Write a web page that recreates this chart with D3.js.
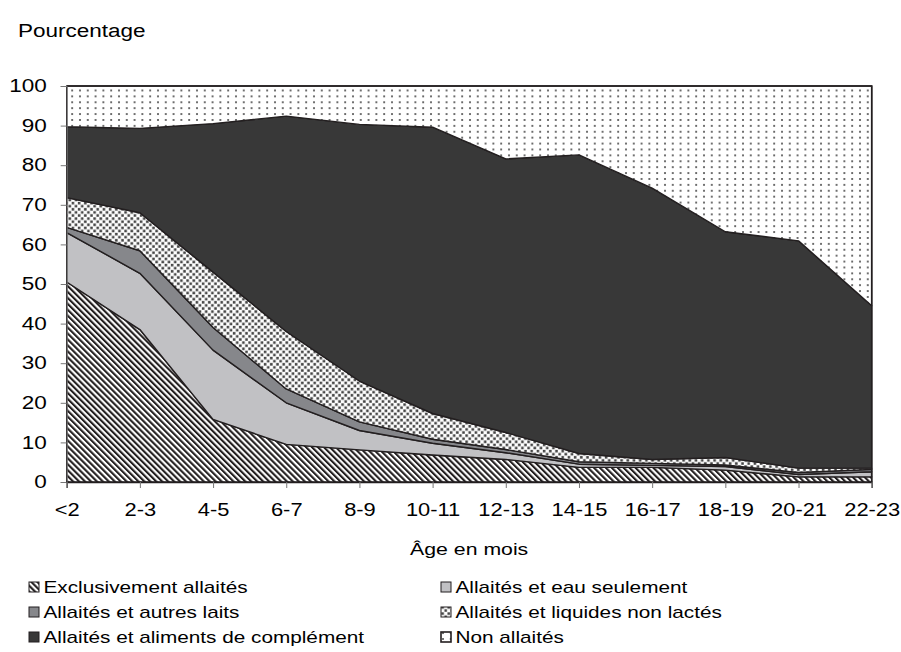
<!DOCTYPE html>
<html>
<head>
<meta charset="utf-8">
<script src="https://cdn.jsdelivr.net/npm/d3@7"></script>
<style>
  html, body { margin: 0; padding: 0; background: #fff; }
  svg text { font-family: "Liberation Sans", Arial, sans-serif; fill: #000; }
</style>
</head>
<body>
<svg id="chart" width="901" height="652"></svg>
<script>
const categories = ["<2","2-3","4-5","6-7","8-9","10-11","12-13","14-15","16-17","18-19","20-21","22-23"];
const yTicks = [0,10,20,30,40,50,60,70,80,90,100];
const seriesNames = ["Exclusivement allaités","Allaités et eau seulement","Allaités et autres laits","Allaités et liquides non lactés","Allaités et aliments de complément","Non allaités"];
const exclusif   = [50.5, 38.5, 15.8, 9.5, 8.1, 6.8, 5.7, 3.7, 3.7, 3.0, 1.3, 1.3];
const eau        = [12.5, 14.2, 17.5, 10.5, 4.9, 3.0, 1.7, 0.8, 0.5, 0.9, 0.6, 1.3];
const autresLaits= [1.3, 5.7, 5.7, 3.5, 2.2, 1.0, 0.8, 0.6, 0.5, 0.4, 0.5, 0.6];
const liquides   = [7.5, 9.6, 14.0, 14.5, 10.3, 6.5, 4.3, 2.1, 1.0, 1.9, 1.1, 0.3];
const complement = [17.9, 21.3, 37.5, 54.4, 64.8, 72.3, 69.1, 75.4, 68.5, 57.0, 57.4, 41.0];
const nonAllaites= [10.3, 10.7, 9.5, 7.6, 9.7, 10.4, 18.4, 17.4, 25.8, 36.8, 39.1, 55.5];
const seriesValues = [exclusif, eau, autresLaits, liquides, complement, nonAllaites];

const svg = d3.select("#chart");
const pLeft = 66.7, pRight = 871.7, pTop = 86, pBottom = 482;
const STRETCH = 1.25;

function stretch(sel) {
  sel.each(function() {
    const L = this.getComputedTextLength();
    d3.select(this).attr("textLength", L * STRETCH).attr("lengthAdjust", "spacingAndGlyphs");
  });
}

const defs = svg.append("defs");
const ph = defs.append("pattern").attr("id","hatch").attr("patternUnits","userSpaceOnUse")
  .attr("width",4.2).attr("height",4.2).attr("patternTransform","rotate(-45)");
ph.append("rect").attr("width",4.2).attr("height",4.2).attr("fill","#fff");
ph.append("rect").attr("width",2.1).attr("height",4.2).attr("fill","#231f20");
const pl = defs.append("pattern").attr("id","liq").attr("patternUnits","userSpaceOnUse")
  .attr("width",6.2).attr("height",6.2);
pl.append("rect").attr("width",6.2).attr("height",6.2).attr("fill","#fff");
pl.append("rect").attr("x",0.3).attr("y",0.3).attr("width",2.6).attr("height",2.6).attr("fill","#454545");
pl.append("rect").attr("x",3.4).attr("y",3.4).attr("width",2.6).attr("height",2.6).attr("fill","#454545");
const pd = defs.append("pattern").attr("id","dots").attr("patternUnits","userSpaceOnUse")
  .attr("width",7.8).attr("height",5.9);
pd.append("rect").attr("width",7.8).attr("height",5.9).attr("fill","#fff");
pd.append("circle").attr("cx",2).attr("cy",2).attr("r",1).attr("fill","#444");

const fills = ["url(#hatch)","#c1c1c4","#86878b","url(#liq)","#383838","url(#dots)"];

const x = d3.scalePoint().domain(categories).range([pLeft, pRight]);
const y = d3.scaleLinear().domain([0,100]).range([pBottom, pTop]);

const table = categories.map((c,i) => {
  const o = {cat:c};
  seriesNames.forEach((s,k) => o[s] = seriesValues[k][i]);
  return o;
});
const stack = d3.stack().keys(seriesNames)(table);
const area = d3.area().x(d => x(d.data.cat)).y0(d => y(d[0])).y1(d => y(Math.min(100,d[1])));

svg.append("g").selectAll("path").data(stack).join("path")
  .attr("d", area).attr("fill", (d,i) => fills[i])
  .attr("stroke","#231f20").attr("stroke-width",1.4).attr("stroke-linejoin","round");

svg.append("path").attr("d", `M${pLeft},${y(100)}H${pRight}V${pBottom}`)
  .attr("fill","none").attr("stroke","#231f20").attr("stroke-width",1.6);

const yAxis = svg.append("g").attr("transform",`translate(${pLeft},0)`)
  .call(d3.axisLeft(y).tickValues(yTicks).tickSize(6).tickPadding(14));
yAxis.select(".domain").attr("stroke","#777");
yAxis.selectAll(".tick line").attr("stroke","#777");
yAxis.selectAll("text").attr("font-size",18).attr("fill","#000").attr("font-family","Liberation Sans, Arial, sans-serif").call(stretch);

const xAxis = svg.append("g").attr("transform",`translate(0,${pBottom})`)
  .call(d3.axisBottom(x).tickSize(6).tickPadding(16));
xAxis.select(".domain").attr("stroke","#231f20").attr("stroke-width",1.4);
xAxis.selectAll(".tick line").attr("stroke","#777");
xAxis.selectAll("text").attr("font-size",17.5).attr("fill","#000").attr("font-family","Liberation Sans, Arial, sans-serif").call(stretch);

svg.append("text").attr("x",18).attr("y",37).attr("font-size",18).text("Pourcentage").call(stretch);
svg.append("text").attr("x",(pLeft+pRight)/2).attr("y",555).attr("text-anchor","middle").attr("font-size",17).text("Âge en mois").call(stretch);

const legX = [29, 441], legY = [587, 612, 637];
const leg = svg.append("g");
seriesNames.forEach((s,i) => {
  const col = i % 2, row = Math.floor(i/2);
  const g = leg.append("g").attr("transform",`translate(${legX[col]},${legY[row]})`);
  g.append("rect").attr("x",0).attr("y",-5).attr("width",10).attr("height",10)
    .attr("fill",fills[i]).attr("stroke","#231f20").attr("stroke-width", i===5?1.6:1);
  g.append("text").attr("x",14.5).attr("y",6).attr("font-size",16.6).text(s).call(stretch);
});
</script>
</body>
</html>
